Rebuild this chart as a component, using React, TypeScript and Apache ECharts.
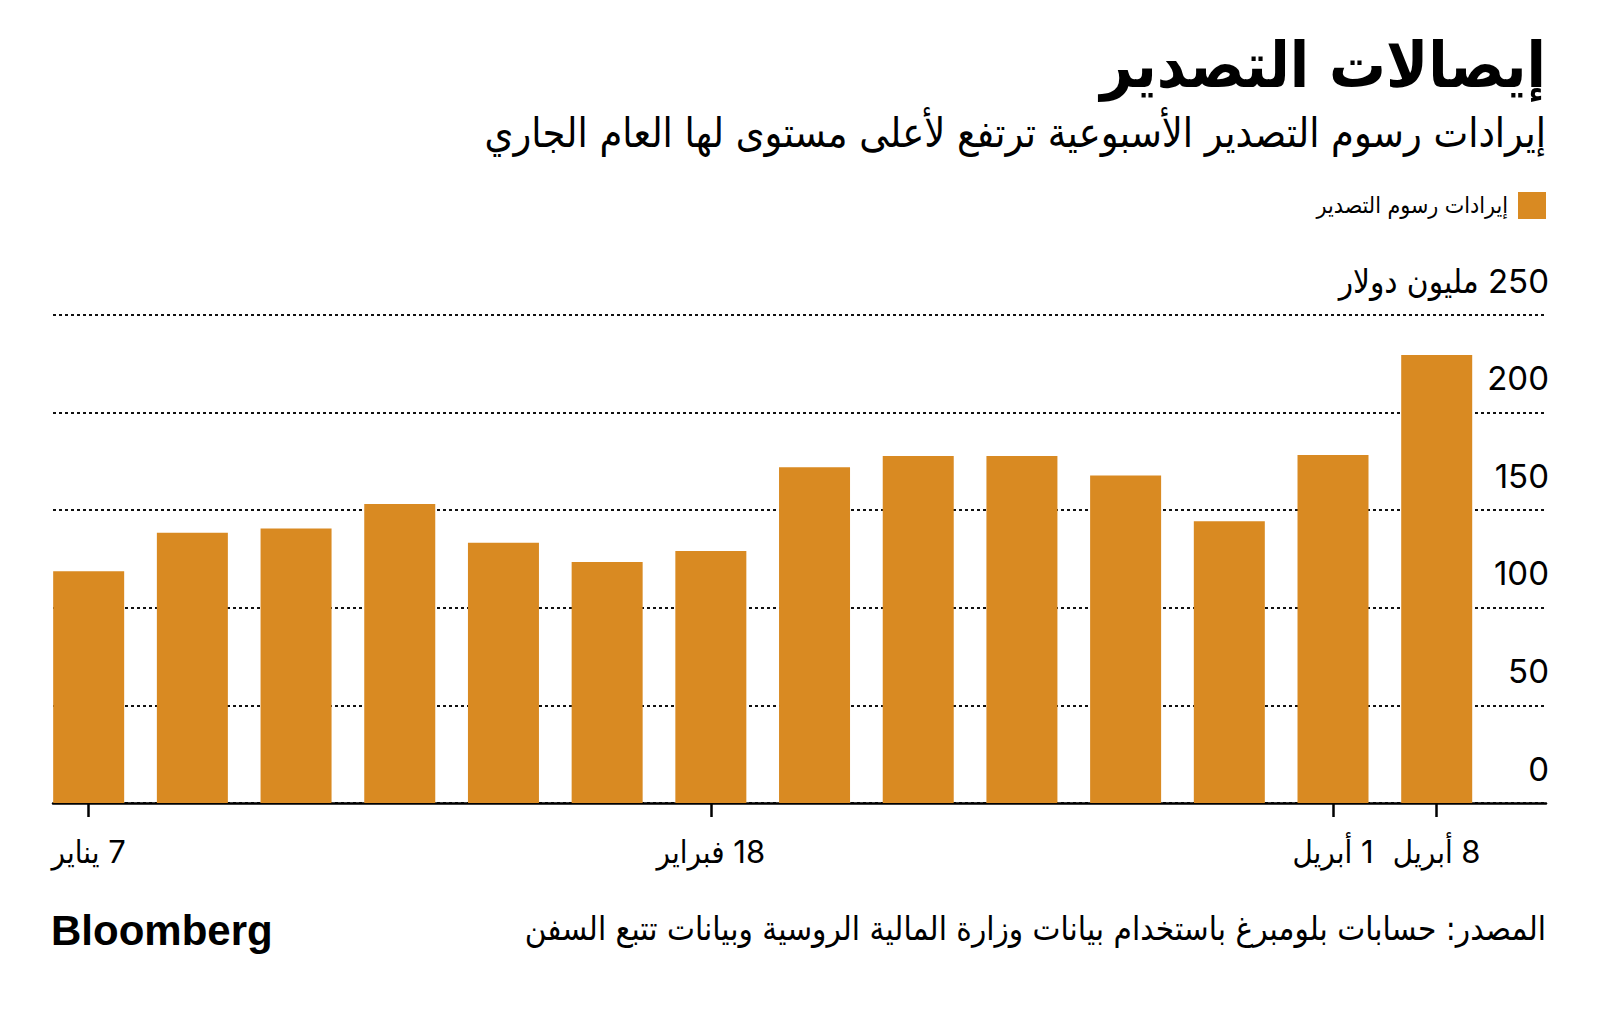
import React, { useEffect, useRef } from "react";
import * as echarts from "echarts";

const RLM = "\u200F";

const titleText = "إيصالات التصدير";
const subtitleText = "إيرادات رسوم التصدير الأسبوعية ترتفع لأعلى مستوى لها العام الجاري";
const legendText = "إيرادات رسوم التصدير";
const unitText = "مليون دولار";
const sourceText = "المصدر: حسابات بلومبرغ باستخدام بيانات وزارة المالية الروسية وبيانات تتبع السفن";

// weekly bars, index 0 = 7 Jan
const weeks = [0, 1, 2, 3, 4, 5, 6, 7, 8, 9, 10, 11, 12, 13];
const revenue = [118.7, 138.5, 140.6, 153.2, 133.3, 123.4, 129.1, 172.0, 177.8, 177.8, 167.8, 144.3, 178.3, 229.5];

const tickIndices = [0, 6, 12, 13];
const tickLabels = ["7 يناير", "18 فبراير", "1 أبريل", "8 أبريل"];

const yTicks = [0, 50, 100, 150, 200, 250];

const ARABIC_FONT = "'DejaVu Sans Condensed', 'DejaVu Sans', sans-serif";
const NUM_FONT = "Inter, 'DejaVu Sans Condensed', 'DejaVu Sans', sans-serif";
const BAR_COLOR = "#D98A22";

export default function App() {
  const ref = useRef<HTMLDivElement>(null);

  useEffect(() => {
    document.body.style.margin = "0";
    if (!ref.current) return;
    const chart = echarts.init(ref.current, undefined, { renderer: "svg" });

    const option: any = {
      animation: false,
      backgroundColor: "#ffffff",
      grid: { left: 53, right: 54, top: 315, bottom: 206, containLabel: false },
      xAxis: {
        type: "value",
        min: -0.344,
        max: 14.054,
        splitLine: { show: false },
        axisLine: { show: true, onZero: true, lineStyle: { color: "#000", width: 2.5 } },
        axisTick: {
          show: true,
          customValues: tickIndices,
          length: 14,
          lineStyle: { color: "#000", width: 2.5 },
        },
        axisLabel: {
          show: true,
          customValues: tickIndices,
          margin: 33,
          color: "#000",
          fontSize: 31,
          fontFamily: NUM_FONT,
          formatter: (v: number) => {
            const i = tickIndices.indexOf(Math.round(v));
            return i >= 0 ? RLM + tickLabels[i] : "";
          },
        },
      },
      yAxis: {
        type: "value",
        position: "right",
        min: 0,
        max: 250,
        interval: 50,
        axisLine: { show: false },
        axisTick: { show: false },
        splitLine: { show: true, lineStyle: { color: "#111", width: 1.8, type: [3, 3] } },
        axisLabel: {
          inside: true,
          margin: -3,
          color: "#000",
          fontSize: 33,
          fontFamily: NUM_FONT,
          verticalAlign: "bottom",
          padding: [0, 0, 18, 0],
          formatter: (v: number) => {
            if (v === yTicks[yTicks.length - 1]) return RLM + v + " " + unitText;
            return String(v);
          },
        },
      },
      series: [
        {
          type: "bar",
          name: legendText,
          barWidth: 71,
          itemStyle: { color: BAR_COLOR },
          data: weeks.map((w, i) => [w, revenue[i]]),
          z: 3,
        },
      ],
      graphic: [
        {
          type: "text",
          right: 54,
          top: 34,
          style: {
            text: titleText,
            fill: "#000",
            font: `bold 63px ${ARABIC_FONT}`,
            textAlign: "right",
          },
        },
        {
          type: "text",
          right: 54,
          top: 112,
          style: {
            text: subtitleText,
            fill: "#000",
            font: `41px ${ARABIC_FONT}`,
            textAlign: "right",
          },
        },
        {
          type: "rect",
          shape: { x: 1518, y: 192, width: 28, height: 27 },
          style: { fill: BAR_COLOR },
        },
        {
          type: "text",
          x: 1508,
          y: 205,
          style: {
            text: legendText,
            fill: "#000",
            font: `23px ${ARABIC_FONT}`,
            textAlign: "right",
            textVerticalAlign: "middle",
          },
        },
        {
          type: "text",
          x: 1546,
          y: 928,
          style: {
            text: sourceText,
            fill: "#000",
            font: `33px ${ARABIC_FONT}`,
            textAlign: "right",
            textVerticalAlign: "middle",
          },
        },
        {
          type: "text",
          x: 51,
          y: 930,
          style: {
            text: "Bloomberg",
            fill: "#000",
            font: `bold 42px 'Liberation Sans', Arial, sans-serif`,
            textAlign: "left",
            textVerticalAlign: "middle",
          },
        },
      ],
    };

    chart.setOption(option);
    return () => chart.dispose();
  }, []);

  return <div ref={ref} style={{ width: 1600, height: 1009 }} />;
}
